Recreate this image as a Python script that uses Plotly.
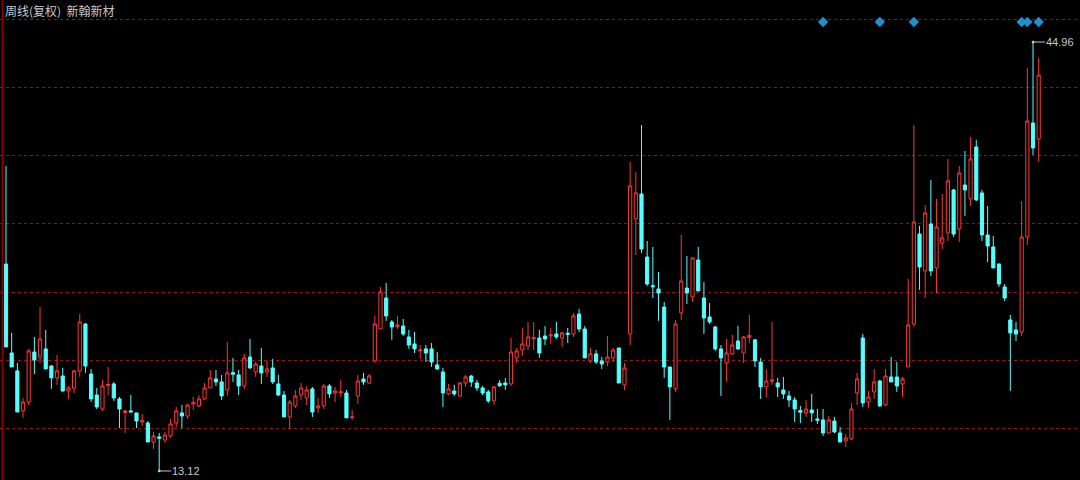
import plotly.graph_objects as go

# Weekly (adjusted) OHLC
opens = [28.48,21.88,20.55,17.58,18.24,21.95,21.58,22.18,20.91,20.03,
         20.17,19.06,19.28,20.55,24.03,20.32,18.76,17.72,19.47,19.58,
         18.47,17.46,17.58,17.43,16.76,16.68,15.27,15.65,15.42,15.72,
         16.68,17.43,17.20,18.10,17.95,18.47,19.28,19.95,19.73,19.13,
         20.42,20.25,19.43,21.58,20.47,20.91,20.47,20.77,19.58,18.76,
         17.13,17.95,18.76,18.54,19.21,17.80,17.95,19.43,18.91,18.93,
         18.91,17.09,18.69,19.95,19.65,21.29,23.66,25.96,24.18,23.83,
         23.88,23.07,22.55,22.03,22.18,22.18,20.99,20.47,18.84,19.06,
         18.69,19.65,20.17,19.65,19.28,18.99,18.32,19.63,19.65,19.58,
         21.51,22.10,22.40,22.92,22.99,23.14,23.14,23.29,22.99,23.34,
         23.29,24.77,23.66,21.29,21.81,21.29,21.21,21.51,22.25,19.51,
         23.29,31.83,33.68,29.00,26.87,26.63,25.29,20.84,19.21,24.85,
         26.70,26.04,28.78,25.96,24.55,23.81,22.18,21.14,21.81,22.77,
         21.88,23.02,22.85,21.21,19.36,19.78,19.65,19.13,18.69,18.39,
         17.60,17.43,17.65,16.98,16.91,15.94,16.83,15.94,15.35,15.50,
         18.91,22.99,18.24,18.99,19.80,18.02,20.10,20.10,19.58,20.84,
         24.03,30.71,27.97,31.45,28.19,30.04,30.79,33.98,31.08,34.35,
         33.31,37.17,33.76,30.64,29.75,28.49,26.78,24.33,23.59,23.44,
         30.49,38.95,37.76]
highs = [35.76,23.37,21.14,18.54,22.18,23.07,25.29,23.59,20.99,21.73,
         20.77,19.43,20.62,24.77,24.11,20.69,19.28,19.88,20.84,19.73,
         18.61,17.65,18.76,17.43,17.35,16.83,16.02,15.94,16.02,16.98,
         17.87,18.02,18.10,18.61,18.76,19.65,20.62,20.62,20.25,22.70,
         21.51,20.62,21.81,22.92,21.21,22.25,21.29,21.44,20.25,19.06,
         18.39,19.13,19.65,19.43,19.36,18.54,19.58,19.58,19.36,19.88,
         19.13,17.65,20.25,20.40,20.32,24.63,26.78,27.08,24.33,24.63,
         24.40,23.59,23.44,22.47,22.47,22.62,21.95,20.77,19.58,19.51,
         19.73,20.25,20.25,19.88,19.43,19.13,19.43,19.88,20.03,22.99,
         22.25,23.74,24.18,24.18,23.59,23.88,23.74,24.18,23.44,23.74,
         24.85,25.15,23.88,22.25,22.10,21.58,23.14,22.25,22.25,21.14,
         36.06,35.31,38.80,30.19,29.75,27.89,25.67,20.84,24.33,30.64,
         29.08,29.01,29.75,27.15,25.59,23.88,22.47,22.92,23.22,23.88,
         23.14,24.70,22.92,21.51,20.69,24.18,20.03,20.10,19.06,18.61,
         17.95,18.39,18.84,17.72,17.72,17.20,17.13,16.39,15.87,18.17,
         20.40,23.29,19.06,20.69,19.88,20.69,21.58,21.21,20.10,27.37,
         38.80,31.31,32.86,34.72,33.31,33.68,36.28,34.05,35.76,36.87,
         37.91,37.69,33.98,32.79,30.56,28.49,27.00,24.70,24.18,33.16,
         43.03,44.96,43.78]
lows = [22.30,20.84,17.50,17.06,18.02,20.32,21.14,20.69,19.21,19.51,
        18.99,18.47,18.91,20.10,20.40,18.24,17.72,17.58,18.76,18.32,
        16.31,15.94,17.50,16.31,16.46,15.27,14.76,13.12,15.20,15.57,
        16.39,16.31,16.98,17.65,17.87,18.39,19.28,19.43,18.39,18.69,
        19.73,18.76,19.21,20.69,20.10,19.58,20.10,19.58,18.69,17.13,
        16.24,17.80,18.39,18.02,17.13,17.43,17.72,18.54,18.24,18.61,
        17.06,16.91,18.10,19.51,19.58,21.14,23.66,24.26,22.85,23.66,
        23.14,22.18,21.88,21.44,21.21,20.84,20.62,17.87,18.76,18.69,
        18.61,19.36,19.36,19.06,18.76,18.17,18.02,19.36,19.13,19.43,
        21.14,21.66,22.10,22.10,21.51,22.47,22.55,22.92,22.33,22.62,
        23.07,23.44,21.51,21.14,21.06,20.69,20.91,21.21,19.65,19.13,
        22.47,29.15,29.30,26.85,25.96,24.26,20.03,16.91,18.99,24.33,
        25.52,25.67,26.48,23.29,24.03,22.03,18.69,19.73,21.73,22.10,
        21.14,22.62,20.84,18.47,18.61,19.51,18.61,18.47,17.87,16.76,
        16.68,17.13,16.76,16.61,15.72,15.87,15.94,15.27,14.90,15.42,
        18.02,17.87,17.80,18.47,17.87,17.95,19.73,18.99,18.61,20.84,
        23.81,26.56,25.96,27.59,26.33,29.60,30.19,30.49,30.12,32.05,
        32.79,33.16,30.19,28.63,28.19,26.78,25.74,19.06,22.77,23.14,
        29.90,36.58,36.06]
closes = [22.33,20.84,17.50,18.24,22.03,21.36,22.92,20.69,20.03,20.55,
          19.06,19.28,20.55,24.18,20.91,18.47,17.87,19.43,19.54,18.54,
          17.72,17.58,17.50,16.83,16.86,15.27,15.72,15.55,15.79,16.61,
          17.58,17.20,18.02,18.19,18.47,19.28,20.03,19.73,18.69,20.40,
          20.30,19.43,21.51,20.77,21.06,20.40,20.69,19.73,18.76,17.13,
          18.24,18.69,19.28,19.13,17.50,17.95,19.43,18.84,19.06,18.99,
          17.06,17.13,19.80,19.73,20.17,24.03,26.41,24.63,23.81,23.96,
          23.29,22.47,22.18,22.10,21.88,21.21,20.69,18.91,19.21,18.84,
          19.65,20.10,19.73,19.28,18.91,18.32,19.36,19.45,19.51,21.95,
          22.03,22.55,23.07,23.02,21.88,22.92,23.22,23.07,23.37,23.27,
          24.63,23.66,21.51,21.81,21.21,21.06,21.58,22.10,19.65,20.77,
          34.28,33.76,29.60,27.00,26.80,26.33,20.84,19.36,24.03,27.22,
          26.33,28.93,26.48,24.48,24.18,22.18,21.51,21.88,22.47,22.18,
          23.07,23.19,21.29,19.36,19.80,19.88,19.36,18.84,18.39,17.72,
          17.48,17.72,17.43,16.89,15.94,16.91,16.02,15.27,15.57,17.72,
          19.95,18.17,18.61,19.73,17.95,20.17,19.73,19.43,19.95,23.96,
          31.60,28.26,32.27,27.97,31.23,30.42,34.65,30.71,35.24,33.98,
          36.28,33.24,30.64,29.82,28.19,27.00,25.96,23.37,23.29,30.49,
          39.10,37.10,42.51]
weeks = list(range(len(closes)))

title_left = "周线(复权)"
title_name = "新翰新材"
signal_weeks = [144, 154, 160, 179, 180, 182]
signal_level = 46.45
grid_levels = [46.65, 41.59, 36.52, 31.46, 26.40, 21.34, 16.28]

hi_val = max(highs)
lo_val = min(lows)
hi_idx = highs.index(hi_val)
lo_idx = lows.index(lo_val)

fig = go.Figure()
fig.add_trace(go.Candlestick(
    x=weeks, open=opens, high=highs, low=lows, close=closes,
    increasing=dict(line=dict(color="#ff3535", width=1), fillcolor="#000000"),
    decreasing=dict(line=dict(color="#54ffff", width=1), fillcolor="#54ffff"),
    whiskerwidth=0, hoverinfo="skip", showlegend=False,
))
fig.add_trace(go.Scatter(
    x=signal_weeks, y=[signal_level] * len(signal_weeks), mode="markers",
    marker=dict(symbol="diamond", size=8, color="#1e90d2"),
    hoverinfo="skip", showlegend=False,
))

ann_font = dict(family="Liberation Sans, Arial", size=11, color="#c8c8c8")
fig.add_annotation(x=hi_idx, y=hi_val, text=f"{hi_val:.2f}", showarrow=True,
                   ax=12, ay=0, xanchor="left", arrowhead=7, arrowsize=0.6,
                   arrowwidth=1, arrowcolor="#c8c8c8", font=ann_font,
                   standoff=0, borderpad=0)
fig.add_annotation(x=lo_idx, y=lo_val, text=f"{lo_val:.2f}", showarrow=True,
                   ax=12, ay=0, xanchor="left", arrowhead=7, arrowsize=0.6,
                   arrowwidth=1, arrowcolor="#c8c8c8", font=ann_font,
                   standoff=0, borderpad=0)
fig.add_annotation(xref="paper", yref="paper", x=0.003, y=1 - 10 / 480,
                   xanchor="left", yanchor="middle", showarrow=False,
                   text=f"{title_left}  {title_name}",
                   font=dict(family="Noto Sans CJK SC", size=12, color="#c8c8c8"))

# left axis line
fig.add_shape(type="line", xref="paper", yref="paper", x0=0.0024, x1=0.0024,
              y0=0, y1=1, line=dict(color="#8a0000", width=2))

fig.update_layout(
    width=1080, height=480, margin=dict(l=0, r=0, t=0, b=0),
    paper_bgcolor="#000000", plot_bgcolor="#000000",
    boxgap=0.2,
    xaxis=dict(range=[-1.057, 189.28], showgrid=False, zeroline=False,
               showticklabels=False, rangeslider=dict(visible=False),
               fixedrange=True),
    yaxis=dict(range=[12.45, 48.08], tickvals=grid_levels, showticklabels=False,
               showgrid=True, gridcolor="#901515", gridwidth=1, griddash="dot",
               zeroline=False, fixedrange=True),
)

fig.write_html(
    "out.html",
    config={"displayModeBar": False, "staticPlot": True},
    post_script="document.body.style.margin='0';document.body.style.overflow='hidden';document.body.style.background='#000';",
)
